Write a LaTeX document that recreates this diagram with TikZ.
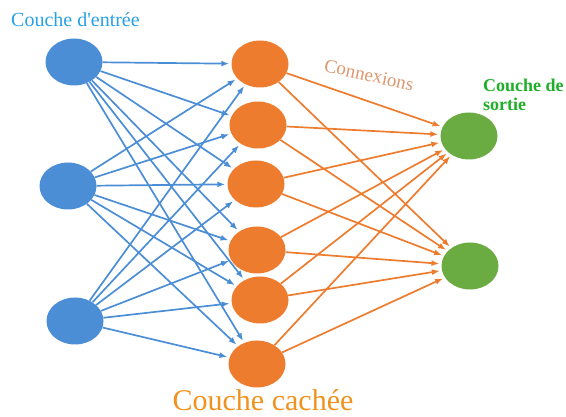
\documentclass[tikz,border=0pt]{standalone}
\usepackage{fontspec}
\setmainfont{Liberation Serif}
\usepackage{tikz}
\usetikzlibrary{arrows.meta}
\usetikzlibrary{shapes.geometric}
\usepackage{xcolor}
\definecolor{inblue}{RGB}{76,142,214}
\definecolor{hidorange}{RGB}{238,124,46}
\definecolor{outgreen}{RGB}{106,172,66}
\definecolor{lblblue}{RGB}{40,160,230}
\definecolor{lblgreen}{RGB}{30,175,40}
\definecolor{lblorange}{RGB}{240,146,30}
\definecolor{cnxbrown}{RGB}{222,150,110}
\tikzset{
    neuron/.style={
        ellipse,
        minimum width=57pt,
        minimum height=47pt,
        inner sep=0pt
    },
    every edge/.style={
        draw,
        line width=1.7pt,
        shorten >=2pt,
        -{Latex[length=8pt, width=6pt]}
    }
}

\begin{document}
\begin{tikzpicture}[x=1pt,y=-1pt]
  \tikzset{
    inneuron/.style={neuron, fill=inblue},
    hidneuron/.style={neuron, fill=hidorange},
    outneuron/.style={neuron, fill=outgreen},
    bluelink/.style={draw=inblue},
    orangelink/.style={draw=hidorange},
    layername/.style={inner sep=0pt}
  }
  \useasboundingbox (0,0) rectangle (566,417);

  % Input layer
  \node[inneuron] (in1) at (74,62) {};
  \node[inneuron] (in2) at (68,186) {};
  \node[inneuron] (in3) at (75,321) {};

  % Hidden layer
  \node[hidneuron] (hid1) at (260,64) {};
  \node[hidneuron] (hid2) at (258,125) {};
  \node[hidneuron] (hid3) at (256,184) {};
  \node[hidneuron] (hid4) at (257,250) {};
  \node[hidneuron] (hid5) at (260,300) {};
  \node[hidneuron] (hid6) at (257,364) {};

  % Output layer
  \node[outneuron] (out1) at (469,136) {};
  \node[outneuron] (out2) at (470,266) {};

  % Input -> hidden
  \path[bluelink] (in1) edge (hid1) (in1) edge (hid2) (in1) edge (hid3)
                  (in1) edge (hid4) (in1) edge (hid5) (in1) edge (hid6);
  \path[bluelink] (in2) edge (hid1) (in2) edge (hid2) (in2) edge (hid3)
                  (in2) edge (hid4) (in2) edge (hid5) (in2) edge (hid6);
  \path[bluelink] (in3) edge (hid1) (in3) edge (hid2) (in3) edge (hid3)
                  (in3) edge (hid4) (in3) edge (hid5) (in3) edge (hid6);

  % Hidden -> output
  \path[orangelink] (hid1) edge (out1) (hid2) edge (out1) (hid3) edge (out1)
                    (hid4) edge (out1) (hid5) edge (out1) (hid6) edge (out1);
  \path[orangelink] (hid1) edge (out2) (hid2) edge (out2) (hid3) edge (out2)
                    (hid4) edge (out2) (hid5) edge (out2) (hid6) edge (out2);

  % Layer names
  \node[layername, anchor=base west, text=lblblue, font=\fontsize{20}{23}\selectfont]
    (inname) at (11,27) {Couche d\textquotesingle entrée};
  \node[layername, anchor=base, text=lblorange, font=\fontsize{30}{33}\selectfont]
    (hidname) at (263,410) {Couche cachée};
  \node[layername, anchor=north west, align=left, text=lblgreen,
        font=\bfseries\fontsize{18}{19}\selectfont]
    (outname) at (483,79) {Couche de\\sortie};
  \node[layername, rotate=-12.5, text=cnxbrown, font=\fontsize{19}{22}\selectfont]
    (cnxname) at (369,75) {Connexions};
\end{tikzpicture}
\end{document}
